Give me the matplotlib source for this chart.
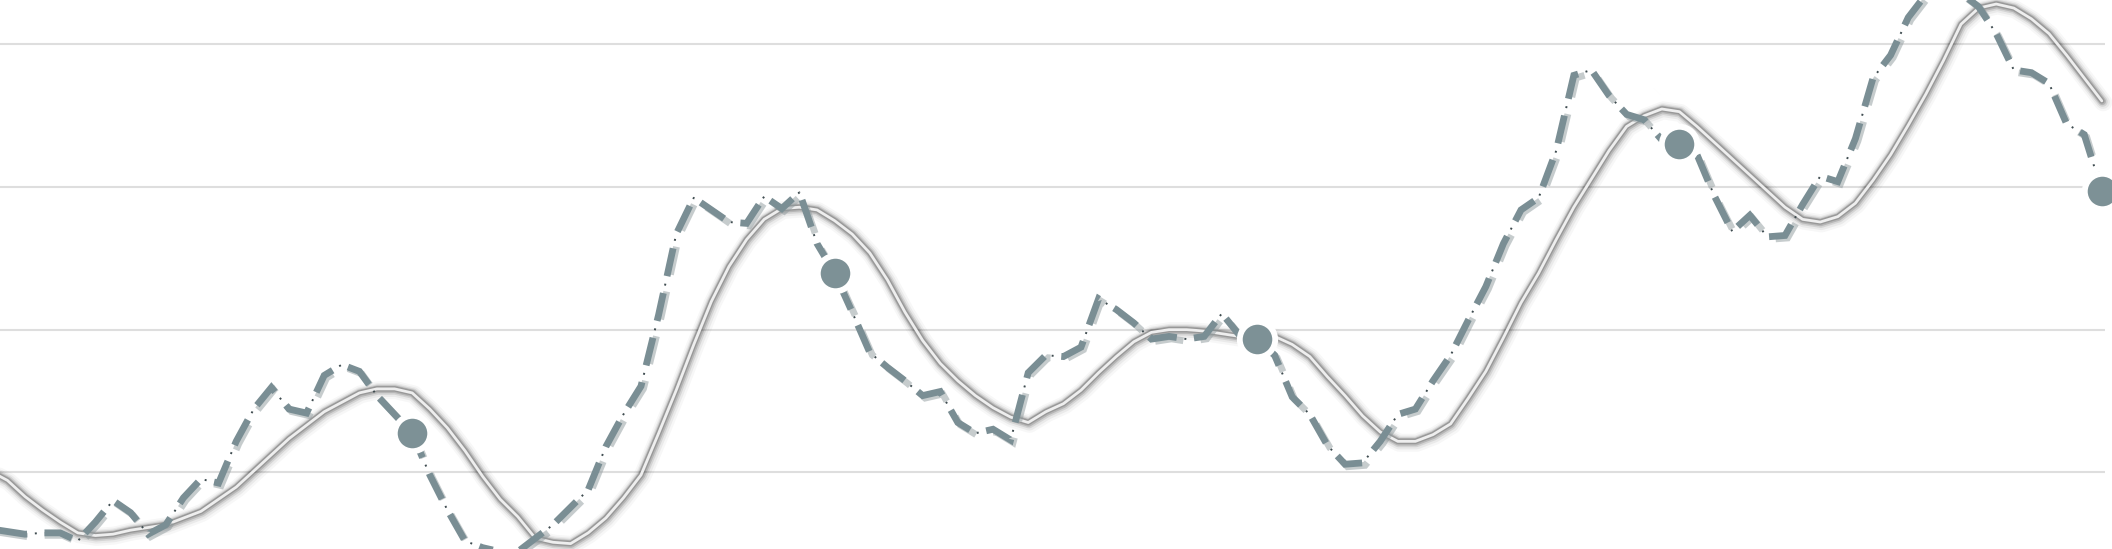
import matplotlib
matplotlib.use("Agg")
import matplotlib.pyplot as plt
import matplotlib.patheffects as pe
import numpy as np

plt.rcParams['lines.scale_dashes'] = False

# ---- data ----
series_values = [
    15, 13, 11, 12, 12, 6, 20, 36, 27, 11,
    18, 38, 52, 49, 80, 104, 120, 104, 101, 129,
    137, 132, 114, 100, 86, 55, 29, 6, 1, -2,
    -2, 8, 18, 31, 44, 76, 100, 121, 174, 234,
    261, 252, 243, 242, 262, 253, 265, 227, 205, 176,
    146, 135, 125, 114, 117, 94, 86, 89, 81, 131,
    144, 143, 150, 186, 178, 168, 156, 158, 156, 158,
    175, 159, 156, 144, 113, 100, 77, 63, 64, 80,
    100, 104, 125, 144, 170, 195, 227, 252, 261, 296,
    352, 356, 337, 323, 319, 304, 301, 293, 262, 236,
    248, 232, 233, 256, 277, 273, 305, 350, 367, 395,
    412, 419, 413, 403, 383, 356, 354, 346, 316, 308,
    266,
]
trend_values = [
    58, 51, 39, 29, 20, 12, 10, 11, 14, 16,
    18, 23, 28, 37, 46, 58, 70, 82, 92, 102,
    109, 116, 119, 119, 116, 104, 90, 73, 54, 37,
    24, 8, 5, 4, 12, 23, 38, 55, 86, 118,
    152, 184, 210, 230, 245, 253, 254, 252, 244, 234,
    220, 200, 176, 155, 138, 125, 114, 105, 98, 94,
    102, 108, 118, 131, 143, 154, 161, 163, 163, 162,
    160, 158, 157, 158, 152, 143, 128, 114, 99, 87,
    80, 80, 85, 93, 112, 132, 157, 183, 205, 230,
    254, 275, 296, 314, 322, 327, 325, 314, 302, 290,
    278, 266, 254, 245, 243, 247, 257, 274, 293, 315,
    338, 363, 390, 402, 405, 402, 394, 383, 367, 350,
    333,
]
gridline_levels = [57, 163, 269, 375]
marker_step = 24

x = np.arange(len(series_values))
x_trend = np.arange(len(trend_values))

# ---- figure ----
W, H, DPI = 2112, 549, 100
fig = plt.figure(figsize=(W / DPI, H / DPI), dpi=DPI, facecolor='white')
ax = fig.add_axes([0, 0, 2105 / W, 1])
ax.set_facecolor('white')
for s in ax.spines.values():
    s.set_visible(False)
ax.set_xticks([])
ax.set_yticks(gridline_levels)
ax.tick_params(left=False, labelleft=False)
ax.yaxis.grid(True, color='#dedede', linewidth=1.5)
ax.set_axisbelow(True)
ax.set_xlim(0.58, 120.18)
ax.set_ylim(0, 408)

# smooth trend line with soft glow
ax.plot(x_trend, trend_values, color='#eeeeee', linewidth=2.0,
        solid_capstyle='round', solid_joinstyle='round', clip_on=False, zorder=2,
        path_effects=[
            pe.Stroke(offset=(1.0, -1.0), linewidth=13, foreground='#000000', alpha=0.03),
            pe.Stroke(offset=(0.8, -0.8), linewidth=10, foreground='#000000', alpha=0.05),
            pe.Stroke(offset=(0.5, -0.5), linewidth=7.5, foreground='#000000', alpha=0.09),
            pe.Stroke(offset=(0.3, -0.3), linewidth=5.5, foreground='#000000', alpha=0.14),
            pe.Stroke(linewidth=4.0, foreground='#000000', alpha=0.16),
            pe.Normal()])

# dash-dot series line
D, G = 20.5, 12.5
P = D + G
d = 1.4
line_color = '#7a8e94'
ax.plot(x, series_values, color='#3f4c50', linewidth=1.4,
        linestyle=(P - (D + G / 2 - d / 2), (d, P - d)),
        dash_capstyle='butt', clip_on=False, zorder=3)
ax.plot(x, series_values, color=line_color, linewidth=4.9,
        linestyle=(0, (D, G)), dash_capstyle='butt', dash_joinstyle='miter',
        clip_on=False, zorder=4,
        path_effects=[pe.SimpleLineShadow(offset=(1.8, -1.8), shadow_color='#8f9a9d', alpha=0.5),
                      pe.Normal()])

# markers every few points
ax.plot(x, series_values, linestyle='none', marker='o', markevery=(marker_step, marker_step),
        markersize=25.5, markerfacecolor='#7d9196', markeredgecolor='white',
        markeredgewidth=4.2, clip_on=False, zorder=5)

fig.savefig('out.png', dpi=DPI, facecolor='white')
